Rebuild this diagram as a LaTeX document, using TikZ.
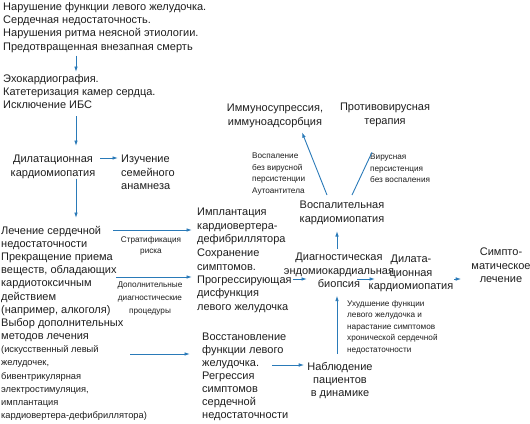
\documentclass[tikz,border=0pt]{standalone}
\usepackage{fontspec}
\setmainfont{Liberation Sans}
\usepackage{tikz}
\usetikzlibrary{arrows.meta}
\definecolor{arrBlue}{HTML}{2A7AB8}
\definecolor{txtGray}{HTML}{1E1E1E}
\newcommand\mainsz{\fontsize{11}{13.3}\selectfont}
\newcommand\smallsz{\fontsize{9.3}{13.15}\selectfont}
\newcommand\notesz{\fontsize{8.2}{11.5}\selectfont}
\begin{document}
\begin{tikzpicture}[x=1pt,y=-1pt,>={Latex[length=5.5pt,width=3.6pt]},
  txt/.style={font=\mainsz,text=txtGray,inner sep=0pt,align=left,anchor=north west},
  ctxt/.style={txt,align=center,anchor=north},
  note/.style={font=\notesz,text=txtGray,inner sep=0pt,align=left,anchor=north west},
  cnote/.style={note,align=center,anchor=north},
  arr/.style={->,draw=arrBlue,line width=0.9pt}]
\useasboundingbox (0,0) rectangle (530,423);
% left column
\node[txt] (top) at (3,2) {Нарушение функции левого желудочка.\\Сердечная недостаточность.\\Нарушения ритма неясной этиологии.\\Предотвращенная внезапная смерть};
\node[txt] (echo) at (3,74) {Эхокардиография.\\Катетеризация камер сердца.\\Исключение ИБС};
\node[ctxt] (dcm) at (53,155) {Дилатационная\\кардиомиопатия};
\node[txt] (fam) at (121,155) {Изучение\\семейного\\анамнеза};
\node[txt,font=\fontsize{11}{13.15}\selectfont] (treat) at (1,226) {Лечение сердечной\\недостаточности\\Прекращение приема\\веществ, обладающих\\кардиотоксичным\\действием\\(например, алкоголя)\\Выбор дополнительных\\методов лечения\\
  \smallsz(искусственный левый\\\smallsz желудочек,\\\smallsz бивентрикулярная\\\smallsz электростимуляция,\\\smallsz имплантация\\\smallsz кардиовертера-дефибриллятора)};
% middle column
\node[txt] (icd) at (197,208) {Имплантация\\кардиовертера-\\дефибриллятора};
\node[txt] (prog) at (197,249) {Сохранение\\симптомов.\\Прогрессирующая\\дисфункция\\левого желудочка};
\node[txt,font=\fontsize{11}{12.9}\selectfont] (restore) at (202,333) {Восстановление\\функции левого\\желудочка.\\Регрессия\\симптомов\\сердечной\\недостаточности};
\node[ctxt] (observe) at (340,362) {Наблюдение\\пациентов\\в динамике};
% right part
\node[ctxt] (biopsy) at (339,253) {Диагностическая\\эндомиокардиальная\\биопсия};
\node[ctxt] (infl) at (342,201) {Воспалительная\\кардиомиопатия};
\node[ctxt] (immuno) at (275,104) {Иммуносупрессия,\\иммуноадсорбция};
\node[ctxt] (antiviral) at (385,103) {Противовирусная\\терапия};
\node[ctxt] (dil2) at (411,255) {Дилата-\\ционная\\кардиомиопатия};
\node[ctxt] (sympt) at (501,248) {Симпто-\\матическое\\лечение};
% edge notes
\node[cnote] (strat) at (151,236) {Стратификация\\риска};
\node[cnote] (addproc) at (150,282) {Дополнительные\\[1.2pt]диагностические\\[1.2pt]процедуры};
\node[note] (inflnote) at (252,153) {Воспаление\\без вирусной\\персистенции\\Аутоантитела};
\node[note] (virnote) at (370,154) {Вирусная\\персистенция\\без воспаления};
\node[note] (worse) at (347,300) {Ухудшение функции\\левого желудочка и\\нарастание симптомов\\хронической сердечной\\недостаточности};
% connectors
\coordinate (s1) at (113,230);
\coordinate (s2) at (116,277);
\coordinate (s3) at (130,354);
\coordinate (s4) at (272,365);
\draw[arr,shorten <=3pt,shorten >=2pt] (top.south -| 76,0) -- (echo.north -| 76,0);
\draw[arr,shorten <=7pt,shorten >=9pt] (echo.south -| 76,0) -- (dcm.north -| 76,0);
\draw[arr,shorten <=5pt,shorten >=3pt] (dcm.east |- 0,158) -- (fam.west |- 0,158);
\draw[arr,shorten >=8pt] (dcm.south -| 76,0) -- (treat.north -| 76,0);
\draw[arr,shorten >=5pt] (s1) -- (icd.west |- s1);
\draw[arr,shorten >=5pt] (s2) -- (prog.west |- s2);
\draw[arr,shorten >=12pt] (s3) -- (restore.west |- s3);
\draw[arr,shorten >=3pt] (s4) -- (observe.west |- s4);
\draw[arr,shorten <=8pt,shorten >=8pt] (observe.north -| 337,0) -- (biopsy.south -| 337,0);
\draw[arr,shorten <=4pt,shorten >=6.5pt] (biopsy.north -| 337,0) -- (infl.south -| 337,0);
\draw[arr,shorten <=1pt] (prog.east |- 0,279) -- ([shift={(-32,26)}]biopsy.north);
\draw[arr] ([shift={(18,26)}]biopsy.north) -- ([shift={(-36,24)}]dil2.north);
\draw[arr,shorten <=1pt,shorten >=10pt] (dil2.east |- 0,279) -- (sympt.west |- 0,279);
\draw[arr] ([shift={(-15,-6)}]infl.north) -- ([shift={(27,4.7)}]immuno.south);
\draw[draw=arrBlue,line width=0.9pt] ([shift={(10,-6)}]infl.north) -- ([shift={(-13,25.7)}]antiviral.south);
\end{tikzpicture}
\end{document}
